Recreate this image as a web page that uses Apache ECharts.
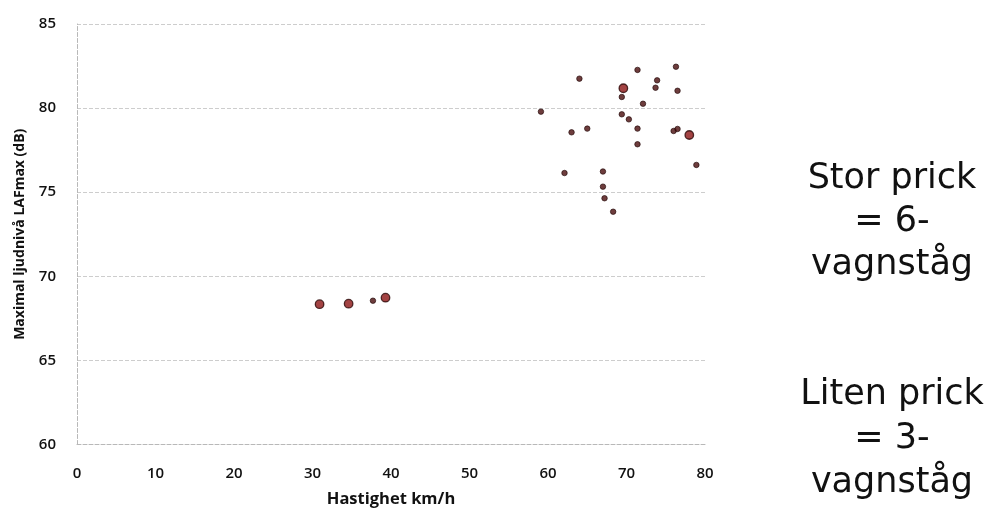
<!DOCTYPE html>
<html>
<head>
<meta charset="utf-8">
<script src="https://cdn.jsdelivr.net/npm/echarts@6/dist/echarts.min.js"></script>
<style>html,body{margin:0;padding:0;background:#fff}#c{width:991px;height:511px}</style>
</head>
<body>
<div id="c"></div>
<script>
// Small dots = 3-car trains
const smallSpeed = [64.0, 71.4, 76.3, 73.9, 73.7, 76.5, 69.4, 72.1, 59.1, 69.4, 70.3, 71.4, 65.0, 63.0, 76.0, 76.5, 71.4, 78.9, 62.1, 67.0, 67.0, 67.2, 68.3, 37.7];
const smallLevel = [81.75, 82.27, 82.46, 81.65, 81.21, 81.03, 80.66, 80.26, 79.79, 79.63, 79.33, 78.78, 78.78, 78.56, 78.64, 78.76, 77.85, 76.62, 76.14, 76.23, 75.33, 74.64, 73.84, 68.55];
// Large dots = 6-car trains
const largeSpeed = [69.6, 78.0, 30.9, 34.6, 39.3];
const largeLevel = [81.18, 78.40, 68.34, 68.37, 68.73];

const xTicks = [0, 10, 20, 30, 40, 50, 60, 70, 80];
const yTicks = [60, 65, 70, 75, 80, 85];

const xName = 'Hastighet km/h';
const yName = 'Maximal ljudnivå LAFmax (dB)';
const noteLarge = 'Stor prick\n= 6-\nvagnståg';
const noteSmall = 'Liten prick\n= 3-\nvagnståg';

const toPairs = (xs, ys) => xs.map((x, i) => [x, ys[i]]);

const chart = echarts.init(document.getElementById('c'));
chart.setOption({
  animation: false,
  backgroundColor: '#ffffff',
  grid: { left: 77, right: 286, top: 24, bottom: 66.5, containLabel: false, outerBoundsMode: 'none' },
  xAxis: {
    type: 'value', min: xTicks[0], max: xTicks[xTicks.length - 1], interval: 10,
    name: xName, nameLocation: 'middle', nameGap: 46,
    nameTextStyle: { fontFamily: 'Open Sans', fontWeight: 'bold', fontSize: 16.5, color: '#111' },
    axisLine: { show: true, lineStyle: { color: '#b8b8b8', type: 'dashed', width: 1 } },
    axisTick: { show: false },
    axisLabel: { margin: 22, fontFamily: 'Open Sans', fontWeight: 600, fontSize: 15, color: '#111' },
    splitLine: { show: false }
  },
  yAxis: {
    type: 'value', min: yTicks[0], max: yTicks[yTicks.length - 1], interval: 5,
    name: yName, nameLocation: 'middle', nameGap: 50, nameRotate: 90,
    nameTextStyle: { fontFamily: 'Open Sans', fontWeight: 'bold', fontSize: 14, color: '#111' },
    axisLine: { show: true, lineStyle: { color: '#b8b8b8', type: 'dashed', width: 1 } },
    axisTick: { show: false },
    axisLabel: { margin: 21, fontFamily: 'Open Sans', fontWeight: 600, fontSize: 15, color: '#111' },
    splitLine: { show: true, lineStyle: { color: '#cdcdcd', type: 'dashed', width: 1 } }
  },
  series: [
    {
      name: '3-vagnståg', type: 'scatter', symbol: 'circle', symbolSize: 5.5,
      data: toPairs(smallSpeed, smallLevel),
      itemStyle: { color: '#4a0c0c', borderColor: '#1e0505', borderWidth: 0.8 }
    },
    {
      name: '6-vagnståg', type: 'scatter', symbol: 'circle', symbolSize: 8.5,
      data: toPairs(largeSpeed, largeLevel),
      itemStyle: { color: '#8c1414', borderColor: '#2a0505', borderWidth: 1.3 }
    }
  ],
  graphic: [
    {
      type: 'text', left: 892 - 100, top: 157,
      style: { text: noteLarge, width: 200, align: 'center', x: 100, fontFamily: 'DejaVu Sans', fontSize: 35, lineHeight: 43, fill: '#111', textAlign: 'center' }
    },
    {
      type: 'text', left: 892 - 100, top: 373,
      style: { text: noteSmall, width: 200, align: 'center', x: 100, fontFamily: 'DejaVu Sans', fontSize: 35, lineHeight: 44, fill: '#111', textAlign: 'center' }
    }
  ]
});
</script>
</body>
</html>
